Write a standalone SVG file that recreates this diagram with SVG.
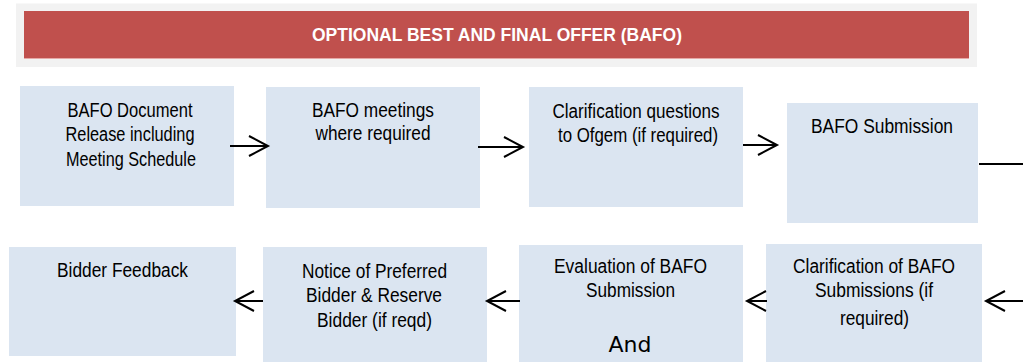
<svg xmlns="http://www.w3.org/2000/svg" width="1023" height="362" viewBox="0 0 1023 362">
<style>
.box{fill:#DBE5F1;}
.t{font-family:"Liberation Sans",Arial,sans-serif;font-size:20px;fill:#000;text-anchor:middle;}
.h{font-family:"Liberation Sans",Arial,sans-serif;font-size:18.5px;font-weight:bold;fill:#fff;text-anchor:middle;}
.c{stroke:#000;stroke-width:2;fill:none;}
</style>
<defs>
<marker id="ah" markerUnits="userSpaceOnUse" markerWidth="24" markerHeight="24" viewBox="-21 -12 24 24" refX="0" refY="0" orient="auto">
<path d="M-19,-10 L0,0 L-19,10" fill="none" stroke="#000" stroke-width="2"/>
</marker>
</defs>
<rect width="1023" height="362" fill="#fff"/>
<g id="header">
<rect x="16" y="3.5" width="961" height="63.5" fill="#F2F2F2"/>
<rect x="24" y="11" width="945" height="48" fill="#C0504D"/>
<line x1="24" y1="58.5" x2="969" y2="58.5" stroke="#E6A9A7" stroke-width="1"/>
<text class="h" x="497" y="40.5" textLength="370" lengthAdjust="spacingAndGlyphs">OPTIONAL BEST AND FINAL OFFER (BAFO)</text>
</g>
<g id="n1">
<rect class="box" x="20" y="86" width="214" height="120"/>
<text class="t" x="130" y="117" textLength="125" lengthAdjust="spacingAndGlyphs">BAFO Document</text>
<text class="t" x="130" y="141" textLength="129" lengthAdjust="spacingAndGlyphs">Release including</text>
<text class="t" x="131" y="166" textLength="130" lengthAdjust="spacingAndGlyphs">Meeting Schedule</text>
</g>
<g id="n2">
<rect class="box" x="266" y="87" width="214" height="121"/>
<text class="t" x="373" y="117" textLength="122" lengthAdjust="spacingAndGlyphs">BAFO meetings</text>
<text class="t" x="373" y="140" textLength="115" lengthAdjust="spacingAndGlyphs">where required</text>
</g>
<g id="n3">
<rect class="box" x="529" y="87" width="214" height="120"/>
<text class="t" x="636" y="118" textLength="167" lengthAdjust="spacingAndGlyphs">Clarification questions</text>
<text class="t" x="638" y="142" textLength="160" lengthAdjust="spacingAndGlyphs">to Ofgem (if required)</text>
</g>
<g id="n4">
<rect class="box" x="787" y="103" width="191" height="120"/>
<text class="t" x="882" y="133" textLength="142" lengthAdjust="spacingAndGlyphs">BAFO Submission</text>
</g>
<g id="n5">
<rect class="box" x="9" y="247" width="227" height="109"/>
<text class="t" x="122.5" y="277" textLength="131" lengthAdjust="spacingAndGlyphs">Bidder Feedback</text>
</g>
<g id="n6">
<rect class="box" x="263" y="247" width="224" height="115"/>
<text class="t" x="374.5" y="278" textLength="145" lengthAdjust="spacingAndGlyphs">Notice of Preferred</text>
<text class="t" x="374" y="302" textLength="136" lengthAdjust="spacingAndGlyphs">Bidder &amp; Reserve</text>
<text class="t" x="374.5" y="327" textLength="115" lengthAdjust="spacingAndGlyphs">Bidder (if reqd)</text>
</g>
<g id="n7">
<rect class="box" x="519" y="245" width="224" height="117"/>
<text class="t" x="630.5" y="273" textLength="153" lengthAdjust="spacingAndGlyphs">Evaluation of BAFO</text>
<text class="t" x="630.5" y="297" textLength="89" lengthAdjust="spacingAndGlyphs">Submission</text>
<text x="630" y="352" font-family="'DejaVu Sans',sans-serif" font-size="22" text-anchor="middle" fill="#000">And</text>
</g>
<g id="n8">
<rect class="box" x="766" y="244" width="216" height="118"/>
<text class="t" x="874" y="273" textLength="162" lengthAdjust="spacingAndGlyphs">Clarification of BAFO</text>
<text class="t" x="874" y="297" textLength="118" lengthAdjust="spacingAndGlyphs">Submissions (if</text>
<text class="t" x="874.5" y="325" textLength="69" lengthAdjust="spacingAndGlyphs">required)</text>
</g>
<g id="connectors">
<line class="c" x1="230" y1="146" x2="268" y2="146" marker-end="url(#ah)"/>
<line class="c" x1="478" y1="147" x2="523" y2="147" marker-end="url(#ah)"/>
<line class="c" x1="743" y1="145" x2="777" y2="145" marker-end="url(#ah)"/>
<line class="c" x1="979" y1="164" x2="1023" y2="164"/>
<line class="c" x1="1023" y1="301" x2="986" y2="301" marker-end="url(#ah)"/>
<line class="c" x1="767" y1="301" x2="747" y2="301" marker-end="url(#ah)"/>
<line class="c" x1="520" y1="301" x2="487" y2="301" marker-end="url(#ah)"/>
<line class="c" x1="263" y1="301" x2="235" y2="301" marker-end="url(#ah)"/>
</g>
</svg>
